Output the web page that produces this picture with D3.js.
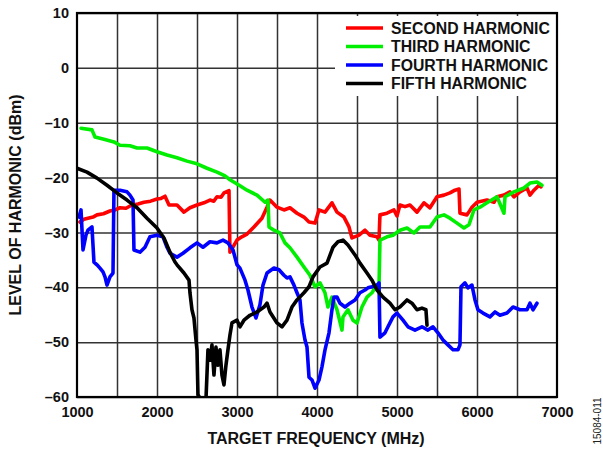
<!DOCTYPE html>
<html>
<head>
<meta charset="utf-8">
<script src="https://cdn.jsdelivr.net/npm/d3@7"></script>
<style>
  html, body { margin: 0; padding: 0; background: #fff; }
  svg { display: block; }
  text { font-family: Arial, "Liberation Sans", sans-serif; }
</style>
</head>
<body>
<svg id="chart" width="603" height="450"></svg>
<script>
// ---------------- DATA ----------------
const seriesNames = ["SECOND HARMONIC", "THIRD HARMONIC", "FOURTH HARMONIC", "FIFTH HARMONIC"];
const seriesColors = ["#ff0000", "#00ee00", "#0000ff", "#000000"];

const xTickValues = [1000, 2000, 3000, 4000, 5000, 6000, 7000];
const xGridValues = [1500, 2000, 2500, 3000, 3500, 4000, 4500, 5000, 5500, 6000, 6500];
const yTickValues = [10, 0, -10, -20, -30, -40, -50, -60];
const yTickLabels = ["10", "0", "\u201310", "\u201320", "\u201330", "\u201340", "\u201350", "\u201360"];

const xTitle = "TARGET FREQUENCY (MHz)";
const yTitle = "LEVEL OF HARMONIC (dBm)";
const figureId = "15084-011";

// [MHz, dBm]
const secondHarmonic = [[1037,-28.1],[1087,-27.6],[1137,-27.4],[1200,-27.2],[1250,-26.8],[1330,-26.6],[1412,-26.1],[1475,-25.9],[1537,-25.5],[1612,-25.6],[1687,-25.0],[1762,-24.8],[1837,-24.5],[1920,-24.3],[2000,-23.9],[2050,-23.8],[2100,-23.4],[2150,-25.0],[2250,-25.0],[2337,-26.3],[2412,-25.5],[2500,-25.0],[2587,-24.6],[2662,-24.1],[2710,-24.3],[2750,-23.5],[2800,-23.6],[2837,-22.8],[2900,-22.4],[2912,-33.6],[3000,-31.4],[3060,-30.8],[3125,-30.3],[3212,-29.0],[3312,-27.4],[3375,-25.4],[3412,-24.1],[3500,-25.4],[3587,-25.9],[3662,-25.5],[3750,-26.5],[3837,-27.2],[3900,-28.1],[3975,-28.3],[4025,-25.9],[4100,-26.3],[4187,-24.6],[4250,-26.3],[4337,-27.2],[4400,-29.0],[4437,-31.0],[4525,-30.5],[4600,-29.6],[4662,-30.5],[4750,-30.8],[4775,-31.4],[4787,-26.8],[4875,-26.5],[4962,-25.9],[5000,-27.0],[5037,-25.0],[5100,-25.3],[5162,-25.0],[5250,-26.3],[5337,-24.6],[5412,-25.5],[5500,-23.5],[5587,-23.2],[5662,-22.8],[5725,-22.3],[5775,-22.1],[5787,-26.5],[5875,-26.8],[5937,-25.4],[6000,-24.5],[6125,-24.1],[6212,-24.5],[6250,-23.5],[6337,-23.2],[6412,-22.6],[6462,-23.5],[6537,-22.6],[6625,-21.9],[6662,-23.2],[6712,-22.3],[6775,-21.4],[6800,-21.7]];

const thirdHarmonic = [[1050,-11.0],[1187,-11.3],[1225,-12.6],[1337,-13.0],[1462,-13.5],[1537,-14.1],[1662,-14.2],[1750,-14.6],[1875,-14.6],[2000,-15.3],[2125,-15.9],[2250,-16.4],[2375,-17.0],[2500,-17.5],[2625,-18.3],[2750,-19.0],[2850,-19.7],[2912,-20.4],[3037,-21.5],[3125,-22.3],[3250,-23.2],[3350,-24.5],[3387,-24.1],[3400,-29.0],[3462,-29.6],[3537,-30.1],[3600,-31.9],[3662,-32.8],[3750,-34.5],[3837,-36.3],[3912,-37.8],[3975,-39.9],[4037,-39.2],[4100,-41.0],[4137,-43.6],[4187,-41.8],[4250,-44.1],[4312,-47.8],[4325,-45.4],[4387,-44.1],[4450,-46.0],[4500,-46.5],[4562,-43.6],[4625,-41.8],[4687,-41.0],[4750,-39.6],[4775,-39.9],[4787,-31.4],[4875,-30.8],[4950,-30.5],[5037,-29.6],[5125,-29.2],[5212,-30.1],[5287,-29.0],[5412,-29.0],[5500,-27.2],[5587,-26.8],[5662,-27.4],[5750,-28.3],[5837,-29.2],[5900,-28.6],[5962,-25.9],[6037,-25.4],[6125,-24.6],[6250,-23.5],[6337,-26.5],[6350,-23.5],[6462,-22.6],[6587,-21.9],[6662,-21.0],[6750,-20.8],[6812,-21.4]];

const fourthHarmonic = [[1025,-27.2],[1050,-25.9],[1075,-33.2],[1112,-30.5],[1137,-29.6],[1187,-29.0],[1212,-35.4],[1250,-35.9],[1287,-36.5],[1325,-37.2],[1350,-38.1],[1375,-39.6],[1412,-38.1],[1450,-37.4],[1462,-22.3],[1537,-22.3],[1625,-22.6],[1662,-23.2],[1700,-24.1],[1712,-33.2],[1787,-33.6],[1850,-32.7],[1912,-30.8],[2000,-30.5],[2075,-30.8],[2125,-32.7],[2162,-33.8],[2250,-34.5],[2325,-33.8],[2412,-32.8],[2500,-31.9],[2575,-32.7],[2662,-31.7],[2750,-31.9],[2825,-31.4],[2887,-31.9],[2950,-33.2],[3000,-35.9],[3037,-36.5],[3100,-38.7],[3137,-40.5],[3187,-43.6],[3237,-45.6],[3287,-43.2],[3325,-39.6],[3375,-37.4],[3462,-36.5],[3525,-36.8],[3587,-37.8],[3625,-38.3],[3662,-38.1],[3712,-39.6],[3750,-41.0],[3787,-42.3],[3812,-46.5],[3850,-49.6],[3875,-50.9],[3900,-56.4],[3937,-56.9],[3975,-58.4],[4025,-56.9],[4062,-54.5],[4100,-51.4],[4150,-48.3],[4187,-44.1],[4212,-41.8],[4250,-41.8],[4287,-42.9],[4350,-43.6],[4412,-42.9],[4475,-42.3],[4537,-41.0],[4600,-40.5],[4637,-40.1],[4687,-39.9],[4750,-39.6],[4775,-39.2],[4787,-49.1],[4850,-48.3],[4887,-47.2],[4950,-45.4],[5000,-44.7],[5075,-46.0],[5137,-47.2],[5225,-47.8],[5312,-47.2],[5387,-47.8],[5450,-47.2],[5512,-48.3],[5575,-49.6],[5637,-50.5],[5700,-51.4],[5762,-51.4],[5787,-50.5],[5800,-39.9],[5850,-39.2],[5887,-40.1],[5937,-39.6],[5975,-42.3],[6012,-44.1],[6075,-44.7],[6162,-45.4],[6225,-44.5],[6287,-45.1],[6375,-44.7],[6450,-43.6],[6537,-44.1],[6625,-44.1],[6662,-42.9],[6700,-44.1],[6750,-42.9]];

const fifthHarmonic = [[1000,-18.3],[1125,-19.0],[1250,-20.1],[1375,-21.4],[1500,-22.8],[1625,-24.1],[1750,-25.5],[1875,-27.4],[2000,-29.2],[2087,-31.0],[2162,-33.6],[2225,-35.4],[2250,-35.9],[2337,-37.4],[2400,-38.7],[2412,-41.0],[2437,-44.1],[2462,-45.6],[2487,-49.6],[2500,-51.4],[2512,-59.6],[2550,-60.5],[2612,-60.5],[2637,-51.4],[2662,-53.3],[2687,-50.5],[2712,-56.0],[2737,-50.9],[2762,-54.2],[2787,-51.4],[2812,-56.0],[2837,-57.8],[2862,-54.2],[2887,-51.4],[2912,-48.7],[2937,-46.5],[3000,-46.0],[3037,-47.2],[3087,-46.0],[3162,-45.1],[3250,-44.5],[3337,-43.6],[3375,-42.9],[3412,-44.5],[3500,-46.5],[3562,-47.2],[3625,-46.0],[3687,-43.6],[3750,-42.3],[3837,-41.0],[3900,-39.9],[3950,-38.1],[4037,-36.3],[4125,-35.6],[4200,-32.7],[4262,-31.7],[4325,-31.4],[4387,-32.3],[4475,-34.1],[4537,-35.6],[4625,-37.4],[4687,-38.7],[4750,-40.5],[4825,-41.8],[4912,-42.9],[4975,-44.1],[5037,-43.6],[5125,-42.3],[5187,-42.9],[5250,-44.1],[5312,-43.8],[5362,-44.1],[5375,-46.9]];

const allSeries = [secondHarmonic, thirdHarmonic, fourthHarmonic, fifthHarmonic];

// ---------------- CHART ----------------
const svg = d3.select("#chart");
const pLeft = 77, pRight = 557, pTop = 13, pBottom = 397;

const x = d3.scaleLinear().domain([1000, 7000]).range([pLeft, pRight]);
const y = d3.scaleLinear().domain([-60, 10]).range([pBottom, pTop]);

// grid
const gGridX = svg.append("g").attr("transform", `translate(0,${pBottom})`)
  .call(d3.axisBottom(x).tickValues(xGridValues).tickSize(-(pBottom - pTop)).tickFormat(""));
const gGridY = svg.append("g").attr("transform", `translate(${pLeft},0)`)
  .call(d3.axisLeft(y).tickValues(yTickValues).tickSize(-(pRight - pLeft)).tickFormat(""));
[gGridX, gGridY].forEach(g => {
  g.select(".domain").remove();
  g.selectAll("line").attr("stroke", "#333").attr("stroke-width", 1.5);
});

// clip
svg.append("clipPath").attr("id", "plotclip").append("rect")
  .attr("x", pLeft).attr("y", pTop).attr("width", pRight - pLeft).attr("height", pBottom - pTop);

const line = d3.line().x(d => x(d[0])).y(d => y(d[1]));

const gLines = svg.append("g").attr("clip-path", "url(#plotclip)");
allSeries.forEach((s, i) => {
  gLines.append("path").datum(s)
    .attr("d", line)
    .attr("fill", "none")
    .attr("stroke", seriesColors[i])
    .attr("stroke-width", 3.6)
    .attr("stroke-linejoin", "round")
    .attr("stroke-linecap", "round");
});

// legend box (white, covers grid)
const legX = 335, legY = 16;
svg.append("rect").attr("x", legX).attr("y", legY).attr("width", pRight - legX - 1).attr("height", 80).attr("fill", "#fff");
seriesNames.forEach((name, i) => {
  const cy = 28 + i * 18.5;
  svg.append("line").attr("x1", 346).attr("x2", 383).attr("y1", cy).attr("y2", cy)
    .attr("stroke", seriesColors[i]).attr("stroke-width", 3.4);
  svg.append("text").attr("x", 391).attr("y", cy + 5.6)
    .attr("font-size", "15.8px").attr("font-weight", "bold").attr("fill", "#111").text(name);
});

// frame
svg.append("rect").attr("x", pLeft).attr("y", pTop).attr("width", pRight - pLeft).attr("height", pBottom - pTop)
  .attr("fill", "none").attr("stroke", "#000").attr("stroke-width", 2.2);

// axes labels
const xAxis = svg.append("g").attr("transform", `translate(0,${pBottom})`)
  .call(d3.axisBottom(x).tickValues(xTickValues).tickSize(0).tickPadding(10).tickFormat(d3.format("d")));
const yAxis = svg.append("g").attr("transform", `translate(${pLeft},0)`)
  .call(d3.axisLeft(y).tickValues(yTickValues).tickSize(0).tickPadding(8)
    .tickFormat((d, i) => yTickLabels[i]));
[xAxis, yAxis].forEach(g => {
  g.select(".domain").remove();
  g.selectAll("text").attr("font-size", "14.5px").attr("font-weight", "bold")
    .attr("font-family", "Arial, 'Liberation Sans', sans-serif").attr("fill", "#111");
});

svg.append("text").attr("x", 316).attr("y", 444).attr("text-anchor", "middle")
  .attr("font-size", "16px").attr("font-weight", "bold").attr("fill", "#111").text(xTitle);
svg.append("text").attr("transform", `translate(21,205) rotate(-90)`).attr("text-anchor", "middle")
  .attr("font-size", "16px").attr("font-weight", "bold").attr("fill", "#111").text(yTitle);
svg.append("text").attr("transform", `translate(601,421) rotate(-90)`).attr("text-anchor", "middle")
  .attr("font-size", "10px").attr("fill", "#222").text(figureId);
</script>
</body>
</html>
